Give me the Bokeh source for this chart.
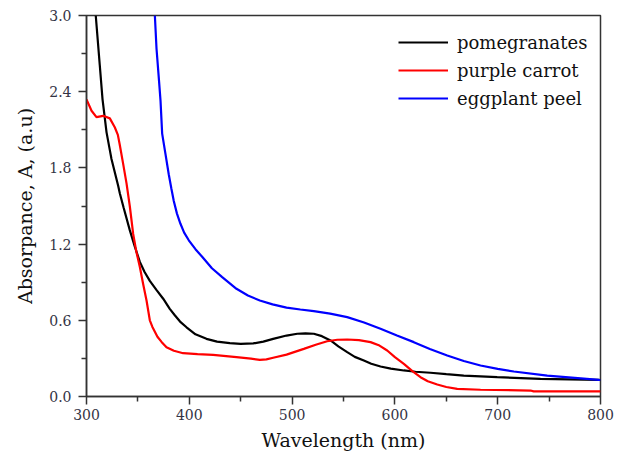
from bokeh.plotting import figure
from bokeh.models import Range1d, FixedTicker, Legend, LegendItem
from bokeh.embed import file_html
from bokeh.resources import INLINE

# pomegranates
pom_x = [309, 312.9, 315.6, 319.5, 322.7, 324.3, 330.8, 332.4, 336, 342.1, 347, 351.9, 356.5, 361.6, 368,
         374.6, 381, 385.9, 391, 397.3, 406, 416.7, 427, 439.4, 450, 462.2, 472, 481.6, 494.6, 505, 513,
         521.1, 529, 537.4, 545, 553.6, 561, 569.8, 577, 586, 596, 608.7, 620, 634.6, 650, 667, 699.5,
         741.6, 798.4, 800]
pom_y = [3.0, 2.61, 2.34, 2.08, 1.94, 1.87, 1.66, 1.60, 1.49, 1.31, 1.18, 1.06, 0.98, 0.91, 0.84,
         0.77, 0.69, 0.64, 0.59, 0.545, 0.49, 0.454, 0.432, 0.42, 0.415, 0.418, 0.432, 0.454, 0.48, 0.494, 0.497,
         0.494, 0.475, 0.441, 0.395, 0.349, 0.312, 0.283, 0.258, 0.236, 0.219, 0.205, 0.195, 0.187, 0.176, 0.165, 0.152,
         0.139, 0.131, 0.13]

# purple carrot
car_x = [300, 304.9, 309.7, 316.2, 322.7, 327.5, 330.5, 332.4, 335.7, 338.9, 342.1, 345.4, 348.5, 351.9, 355,
         358.4, 361.6, 364, 366.5, 369, 373, 377.8, 385, 394, 408, 423.2, 445.9, 460, 468.6, 475, 481.6,
         494.6, 511.4, 523, 534.1, 544, 553.6, 565, 576.3, 585, 592.5, 600, 608.7, 617, 624.9,
         632, 641.2, 650, 660.6, 683.3, 731.9, 735, 800]
car_y = [2.34, 2.25, 2.20, 2.21, 2.19, 2.12, 2.06, 1.98, 1.83, 1.68, 1.50, 1.28, 1.14, 1.02, 0.89,
         0.756, 0.60, 0.55, 0.51, 0.47, 0.43, 0.388, 0.36, 0.341, 0.333, 0.328, 0.31, 0.298, 0.289, 0.292, 0.305,
         0.33, 0.375, 0.408, 0.435, 0.447, 0.449, 0.444, 0.428, 0.401, 0.362, 0.31, 0.257, 0.2, 0.152,
         0.12, 0.094, 0.075, 0.06, 0.053, 0.047, 0.04, 0.04]

# eggplant peel
egg_x = [366.5, 368.1, 370.7, 372, 373.6, 376.8, 380, 382.5, 384.9, 388, 391.4, 395, 399.5, 406, 412.5,
         422, 432, 445.9, 457, 468.6, 481, 494.6, 508, 521.1, 537, 553.6, 570, 586, 602, 618.4, 634,
         650.9, 667, 683.3, 700, 715.7, 748.2, 775, 798.4, 800]
egg_y = [3.0, 2.74, 2.47, 2.33, 2.07, 1.91, 1.75, 1.64, 1.54, 1.44, 1.36, 1.29, 1.23, 1.16, 1.10,
         1.01, 0.94, 0.848, 0.795, 0.756, 0.725, 0.70, 0.685, 0.672, 0.652, 0.625, 0.583, 0.533, 0.48, 0.428, 0.374,
         0.323, 0.28, 0.244, 0.218, 0.197, 0.165, 0.147, 0.131, 0.13]

series_names = ["pomegranates", "purple carrot", "eggplant peel"]
x_ticks = [300, 400, 500, 600, 700, 800]
x_minor = [350, 450, 550, 650, 750]
y_ticks = [0.0, 0.6, 1.2, 1.8, 2.4, 3.0]
y_minor = [0.3, 0.9, 1.5, 2.1, 2.7]

FONT = "DejaVu Serif"

p = figure(width=617, height=455, output_backend="svg", toolbar_location=None,
           x_range=Range1d(300, 800), y_range=Range1d(0, 3.0),
           min_border_left=86, min_border_right=17, min_border_top=15, min_border_bottom=59)
p.xgrid.visible = False
p.ygrid.visible = False
p.outline_line_color = "#333333"
p.outline_line_width = 1.5
p.background_fill_color = "white"
p.border_fill_color = "white"

r1 = p.line(pom_x, pom_y, line_color="black", line_width=2.2)
r2 = p.line(car_x, car_y, line_color="#ff0000", line_width=2.2)
r3 = p.line(egg_x, egg_y, line_color="#0000ff", line_width=2.2)

for ax, ticks, minor in ((p.xaxis[0], x_ticks, x_minor), (p.yaxis[0], y_ticks, y_minor)):
    ax.ticker = FixedTicker(ticks=ticks, minor_ticks=minor)
    ax.major_tick_in = 0
    ax.major_tick_out = 8
    ax.minor_tick_in = 0
    ax.minor_tick_out = 5
    ax.axis_line_color = "#333333"
    ax.axis_line_width = 1.5
    ax.major_tick_line_color = "#333333"
    ax.major_tick_line_width = 1.5
    ax.minor_tick_line_color = "#333333"
    ax.minor_tick_line_width = 1.5
    ax.major_label_text_font = FONT
    ax.major_label_text_font_size = "14px"
    ax.major_label_text_color = "#333344"
    ax.axis_label_text_font = FONT
    ax.axis_label_text_font_style = "normal"
    ax.axis_label_text_color = "#111111"

p.xaxis[0].major_label_overrides = {t: str(t) for t in x_ticks}
p.yaxis[0].major_label_overrides = {t: f"{t:.1f}" for t in y_ticks}
p.xaxis[0].axis_label = "Wavelength (nm)"
p.yaxis[0].axis_label = "Absorpance, A, (a.u)"
p.xaxis[0].axis_label_text_font_size = "19px"
p.yaxis[0].axis_label_text_font_size = "19px"
p.xaxis[0].major_label_standoff = 4
p.yaxis[0].major_label_standoff = 7
p.xaxis[0].axis_label_standoff = 6
p.yaxis[0].axis_label_standoff = 10

legend = Legend(items=[LegendItem(label=n, renderers=[r]) for n, r in zip(series_names, [r1, r2, r3])],
                location=(312, 284), padding=0, spacing=0, margin=0,
                label_height=28, glyph_height=28, glyph_width=50, label_standoff=9,
                label_text_font=FONT, label_text_font_size="18px", label_text_color="#111111",
                border_line_color=None, background_fill_alpha=0)
p.add_layout(legend)

open("out.html", "w").write(file_html(p, INLINE))
